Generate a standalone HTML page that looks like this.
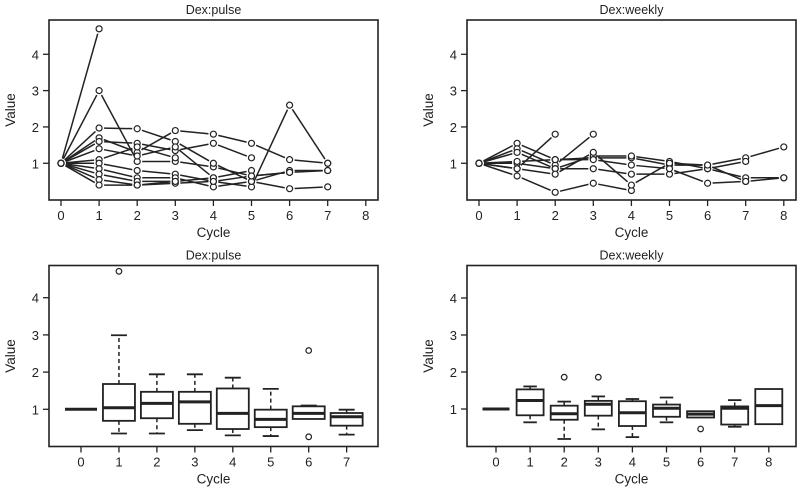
<!DOCTYPE html>
<html><head><meta charset="utf-8">
<style>
html,body{margin:0;padding:0;background:#fff;}
svg{display:block;font-family:"Liberation Sans",Arial,sans-serif;}
</style></head>
<body>
<svg id="chart" width="800" height="489" viewBox="0 0 800 489"></svg>
<script>
// ---- data ----
const pulseCycles = [0,1,2,3,4,5,6,7];
const pulseTraj = [
  [1,4.7],
  [1,3.0,1.05,1.05,0.9,0.65,0.75,0.8],
  [1,1.97,1.95,1.6,1.0,0.5,0.8,0.8],
  [1,1.7,1.3,1.9,1.8,1.55,1.1,1.0],
  [1,1.6,1.55,1.35,1.55,1.15],
  [1,1.4,1.2,1.45,0.6],
  [1,1.1,1.45,1.15],
  [1,1.0,0.8,0.7,0.5,0.35,2.6,1.0],
  [1,0.85,0.6,0.6,0.35,0.5,0.3,0.35],
  [1,0.7,0.5,0.5,0.6,0.8],
  [1,0.55,0.4,0.45,0.5,0.65,0.75],
  [1,0.4,0.4,0.5]
];
const weeklyCycles = [0,1,2,3,4,5,6,7,8];
const weeklyTraj = [
  [1,1.55,1.1,1.15,1.15,0.95,0.95,1.15,1.45],
  [1,1.4,0.95,1.8],
  [1,1.3,0.85,1.2,1.2,1.05,0.85,1.05],
  [1,0.85,1.8],
  [1,0.65,0.2,0.45,0.25],
  [1,1.0,0.85,0.85,0.7,0.7,0.85,0.6,0.6],
  [1,0.85,0.7,1.3,0.4,1.0,0.95,0.5],
  [1,1.05,1.1,1.1,0.95,0.85,0.45,0.5,0.6]
];
// box stats: [lo, q1, median, q3, hi]
const pulseBoxes = [
  [1,1,1,1,1],[0.35,0.69,1.04,1.68,2.99],[0.35,0.76,1.16,1.47,1.94],[0.44,0.61,1.2,1.47,1.94],
  [0.3,0.47,0.89,1.56,1.85],[0.28,0.52,0.73,0.99,1.55],[0.74,0.74,0.89,1.08,1.1],[0.32,0.56,0.8,0.9,0.99]
];
const pulseOutliers = [[],[4.71],[],[],[],[],[2.58,0.26],[]];
const weeklyBoxes = [
  [1,1,1,1,1],[0.64,0.83,1.23,1.53,1.61],[0.19,0.71,0.87,1.09,1.2],[0.45,0.82,1.13,1.22,1.34],
  [0.24,0.54,0.9,1.21,1.27],[0.64,0.79,1.02,1.12,1.31],[0.77,0.77,0.86,0.94,0.94],[0.52,0.58,1.02,1.07,1.24],[0.59,0.59,1.09,1.54,1.54]
];
const weeklyOutliers = [[],[],[1.86],[1.86],[],[],[0.46],[],[]];
const yTicks = [1,2,3,4];

const NS="http://www.w3.org/2000/svg";
const svg=document.getElementById('chart');
function mk(tag,attrs,parent){const e=document.createElementNS(NS,tag);for(const k in attrs)e.setAttribute(k,attrs[k]);(parent||svg).appendChild(e);return e;}

function panel(cfg){
  const g=mk('g',{});
  
  
  const X=v=>cfg.x0+(v-cfg.xmin)*cfg.xs;
  const Y=v=>cfg.y0-v*cfg.ys;
  const fr=mk('rect',{x:cfg.fx,y:cfg.fy,width:cfg.fw,height:cfg.fh,fill:'none',stroke:'#222','stroke-width':1.6},g);
  
  
  const t=mk('text',{x:cfg.fx+cfg.fw/2,y:cfg.fy-6,'text-anchor':'middle','font-size':12.5,fill:'#222'},g);
  t.textContent=cfg.title;
  
  
  const by=cfg.fy+cfg.fh;
  for(const v of yTicks){
    mk('line',{x1:cfg.fx-6,x2:cfg.fx,y1:Y(v),y2:Y(v),stroke:'#222','stroke-width':1.3},g);
    const tl=mk('text',{x:cfg.fx-10,y:Y(v)+5,'text-anchor':'end','font-size':13,fill:'#222'},g);
    tl.textContent=v;
    
    
  }
  for(const c of cfg.xticks){
    mk('line',{x1:X(c),x2:X(c),y1:by,y2:by+6,stroke:'#222','stroke-width':1.3},g);
    const tl=mk('text',{x:X(c),y:by+20,'text-anchor':'middle','font-size':13,fill:'#222'},g);
    tl.textContent=c;
    
    
  }
  const xl=mk('text',{x:cfg.fx+cfg.fw/2,y:by+37,'text-anchor':'middle','font-size':13.5,fill:'#222'},g);
  xl.textContent='Cycle';
  
  
  const yl=mk('text',{x:0,y:0,'text-anchor':'middle','font-size':13.5,fill:'#222',transform:`translate(${cfg.fx-34},${cfg.fy+cfg.fh/2}) rotate(-90)`},g);
  yl.textContent='Value';
  
  
  return {g,X,Y};
}

function linePanel(cfg,traj){
  const {g,X,Y}=panel(cfg);
  const r=3;
  traj.forEach((tr,i)=>{
    for(let k=0;k<tr.length-1;k++){
      const x1=X(k),y1=Y(tr[k]),x2=X(k+1),y2=Y(tr[k+1]);
      const dx=x2-x1,dy=y2-y1,L=Math.hypot(dx,dy),gap=r+2;
      const s=mk('line',{x1:x1+dx*gap/L,y1:y1+dy*gap/L,x2:x2-dx*gap/L,y2:y2-dy*gap/L,stroke:'#222','stroke-width':1.5},g);
      
      
    }
    tr.forEach((v,k)=>{
      const c=mk('circle',{cx:X(k),cy:Y(v),r:r,fill:'#fff',stroke:'#222','stroke-width':1.2},g);
      
      
    });
  });
}

function boxPanel(cfg,boxes,outs,bw){
  const {g,X,Y}=panel(cfg);
  boxes.forEach((b,i)=>{
    const x=X(i);
    const bg=mk('g',{},g);
    
    
    const [lo,q1,md,q3,hi]=b;
    if(hi>q3){
      mk('line',{x1:x,x2:x,y1:Y(q3),y2:Y(hi),stroke:'#222','stroke-width':1.5,'stroke-dasharray':'4,3'},bg);
      mk('line',{x1:x-bw/4,x2:x+bw/4,y1:Y(hi),y2:Y(hi),stroke:'#222','stroke-width':1.8},bg);
    }
    if(lo<q1){
      mk('line',{x1:x,x2:x,y1:Y(q1),y2:Y(lo),stroke:'#222','stroke-width':1.5,'stroke-dasharray':'4,3'},bg);
      mk('line',{x1:x-bw/4,x2:x+bw/4,y1:Y(lo),y2:Y(lo),stroke:'#222','stroke-width':1.8},bg);
    }
    mk('rect',{x:x-bw/2,y:Y(q3),width:bw,height:Math.max(0,Y(q1)-Y(q3)),fill:'#fff',stroke:'#222','stroke-width':1.8},bg);
    mk('line',{x1:x-bw/2,x2:x+bw/2,y1:Y(md),y2:Y(md),stroke:'#222','stroke-width':3},bg);
    outs[i].forEach(o=>{
      const c=mk('circle',{cx:x,cy:Y(o),r:2.8,fill:'#fff',stroke:'#222','stroke-width':1.2},bg);
      
      
    });
  });
}

linePanel({name:'pulse-line-panel',title:'Dex:pulse',fx:49,fy:20,fw:329,fh:180,x0:61,xmin:0,xs:38.1,y0:199.6,ys:36.33,xticks:[0,1,2,3,4,5,6,7,8]},pulseTraj);
linePanel({name:'weekly-line-panel',title:'Dex:weekly',fx:467,fy:20,fw:329,fh:180,x0:479,xmin:0,xs:38.1,y0:199.6,ys:36.33,xticks:weeklyCycles},weeklyTraj);
boxPanel({name:'pulse-box-panel',title:'Dex:pulse',fx:49,fy:265.5,fw:329,fh:181,x0:81,xmin:0,xs:37.95,y0:446.5,ys:37.2,xticks:pulseCycles},pulseBoxes,pulseOutliers,32);
boxPanel({name:'weekly-box-panel',title:'Dex:weekly',fx:467,fy:265.5,fw:329,fh:181,x0:496,xmin:0,xs:34.1,y0:446,ys:37.0,xticks:weeklyCycles},weeklyBoxes,weeklyOutliers,27);
</script>
</body></html>
